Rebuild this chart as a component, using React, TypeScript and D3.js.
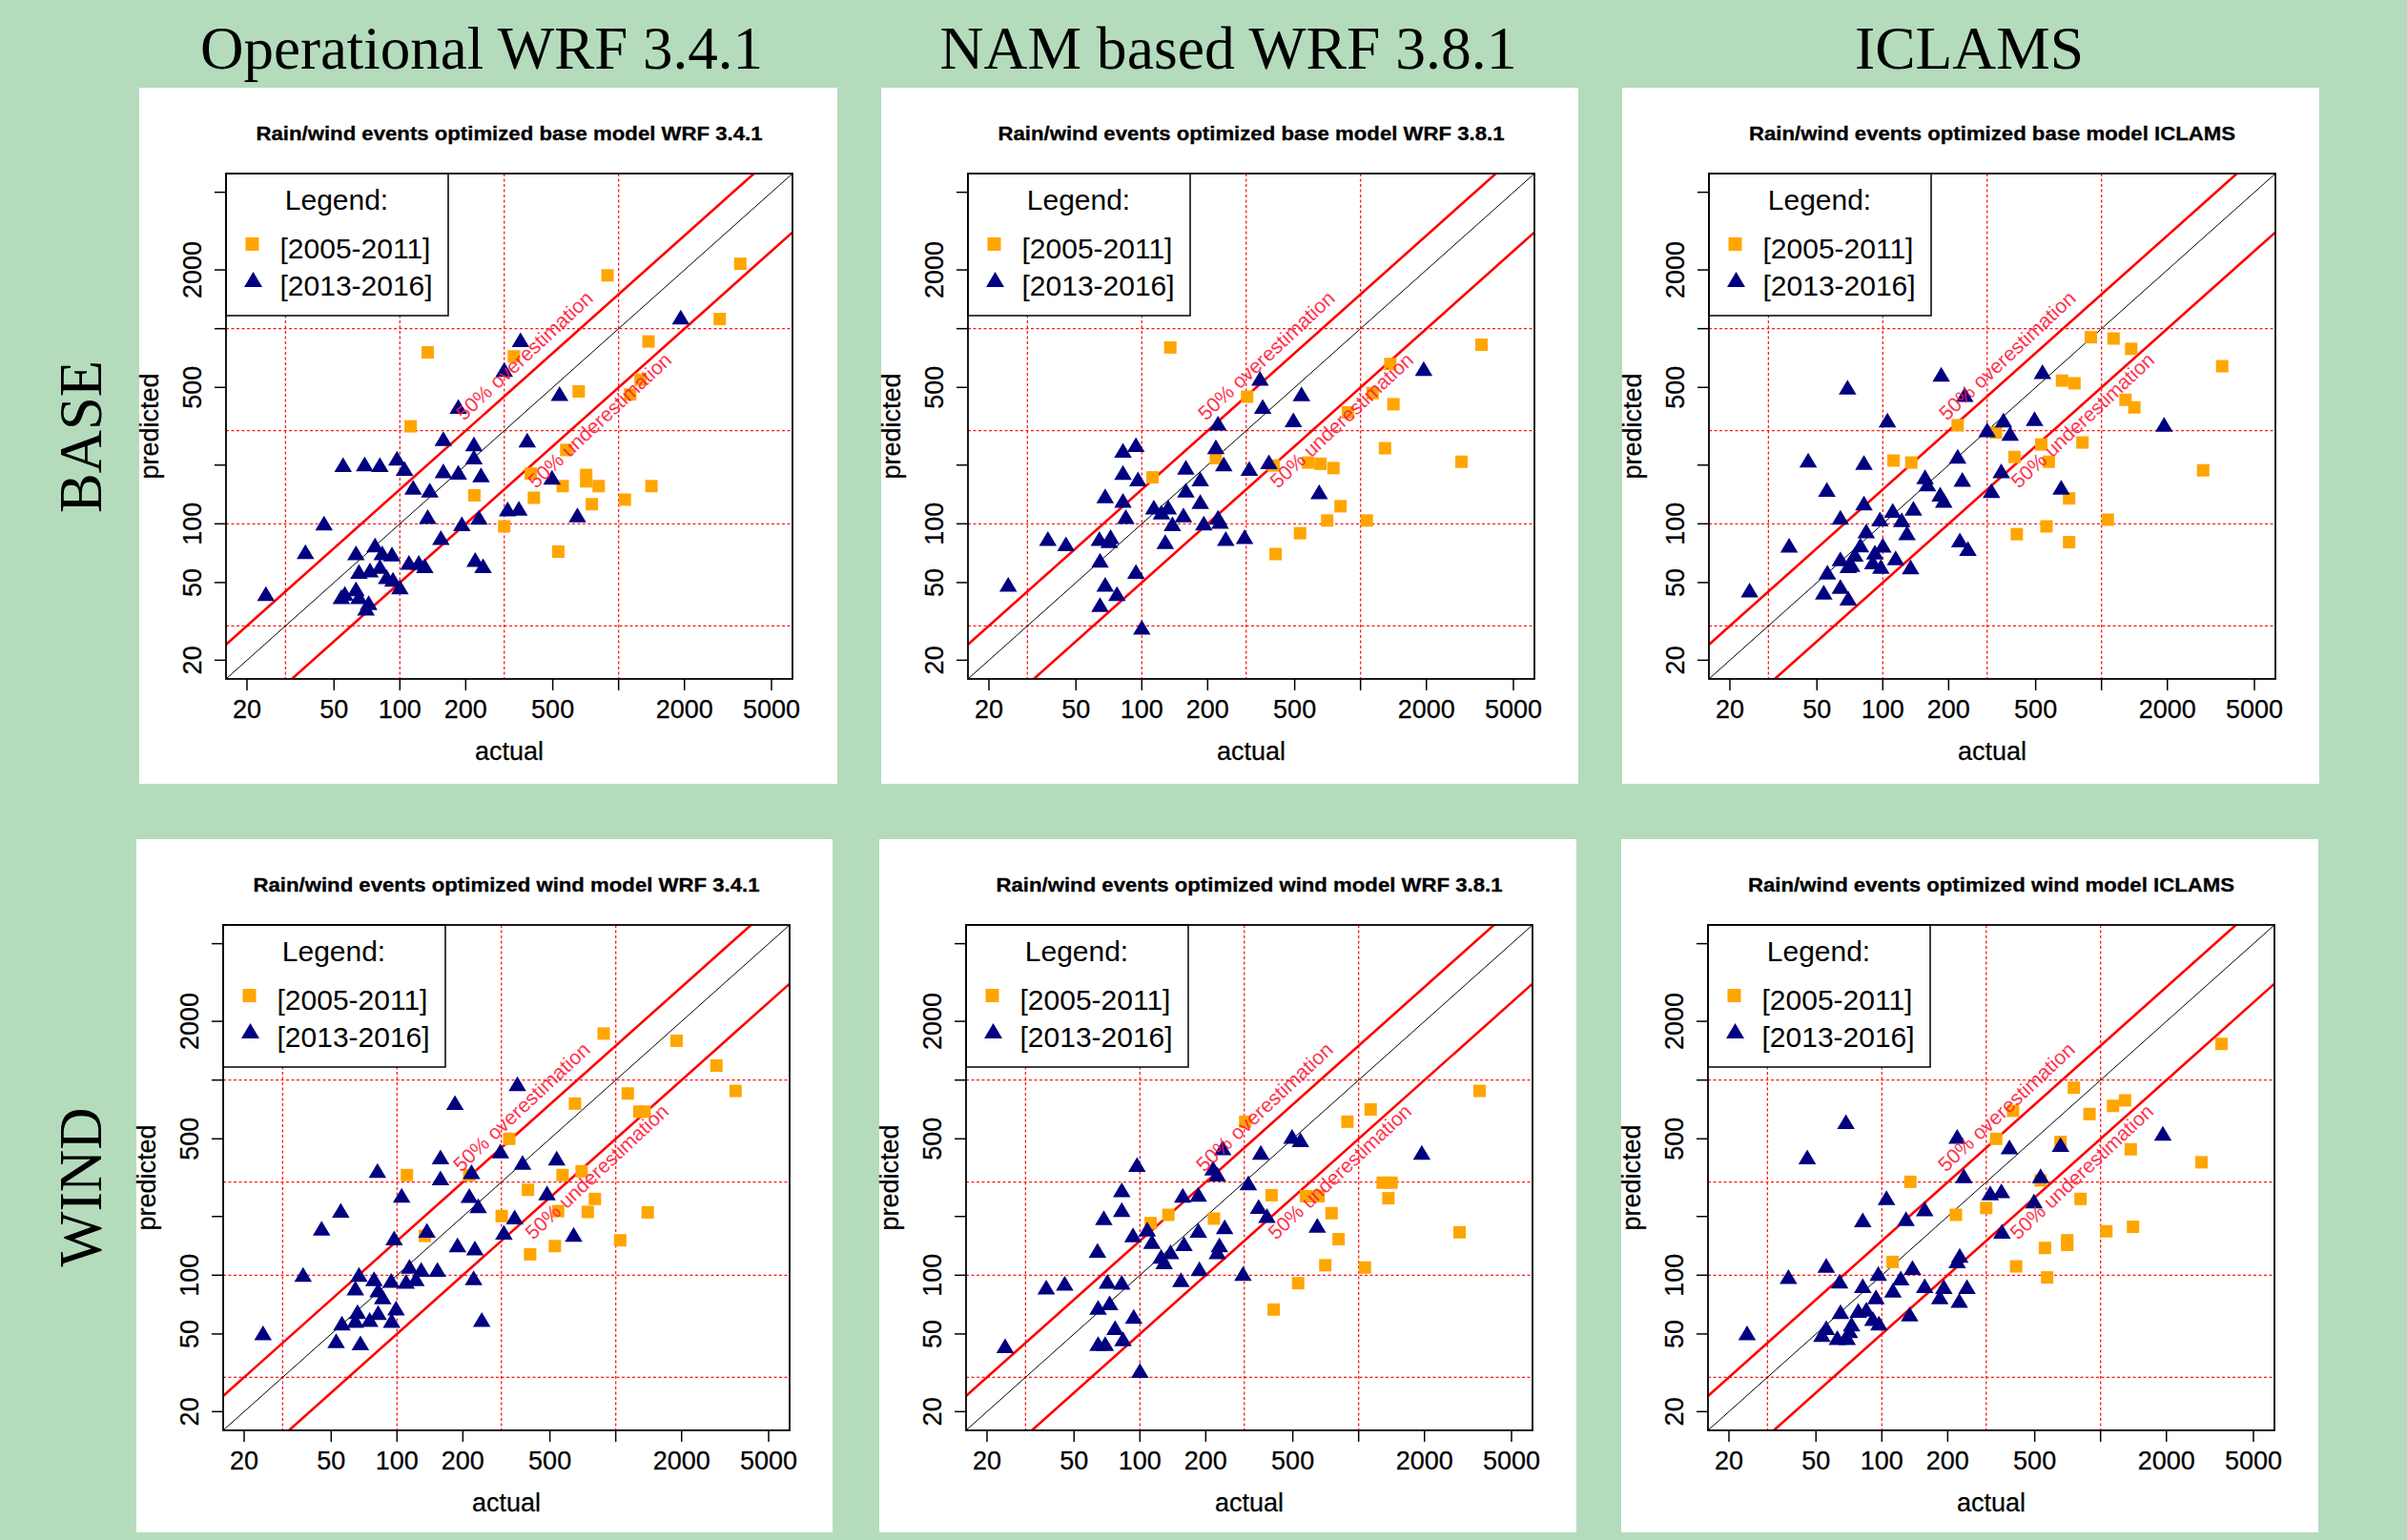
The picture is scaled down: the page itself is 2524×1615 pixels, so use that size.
import React from "react";
import * as d3 from "d3";

// page and layout
const W = 2524;
const H = 1615;
const BG = "#b4dcbc";

const columnHeaders = ["Operational WRF 3.4.1", "NAM based WRF 3.8.1", "ICLAMS"];
const columnHeaderX = [505, 1288, 2065];
const columnHeaderLen = [590, 605, 240];
const rowLabels = ["BASE", "WIND"];
const rowLabelY = [458, 1245];
const rowLabelLen = [160, 167];

const panelTitles = [
  "Rain/wind events optimized base model WRF 3.4.1",
  "Rain/wind events optimized base model WRF 3.8.1",
  "Rain/wind events optimized base model ICLAMS",
  "Rain/wind events optimized wind model WRF 3.4.1",
  "Rain/wind events optimized wind model WRF 3.8.1",
  "Rain/wind events optimized wind model ICLAMS",
];
const titleLen = [531, 531, 510, 531, 531, 510];

const legendTitle = "Legend:";
const legendLabels = ["[2005-2011]", "[2013-2016]"];

const axisTicks = [20, 50, 100, 200, 500, 1000, 2000, 5000];
const xTickLabels = [20, 50, 100, 200, 500, 2000, 5000];
const yTickLabels = [20, 50, 100, 500, 2000];
const gridValues = [30, 100, 300, 1000];
const axisLimits = [20, 5000];
const overFactor = 1.5;
const underFactor = 0.5;

// [actual, predicted]
const base341Orange = [
  [3600, 2150], [890, 1875], [2900, 1120], [1370, 860], [134, 756], [332, 721], [657, 477],
  [1130, 460], [1260, 548], [112, 316], [576, 239], [397, 181], [711, 178], [711, 165],
  [811, 156], [555, 156], [1413, 156], [219, 140], [410, 136], [1068, 133], [755, 126],
  [300, 97], [530, 72],
];
const base341Navy = [
  [1923, 1147], [356, 877], [300, 618], [537, 465], [185, 399], [158, 273], [218, 257],
  [382, 269], [218, 220], [97, 217], [55, 201], [69, 203], [81, 201], [105, 192], [158, 187],
  [185, 184], [235, 178], [496, 173], [115, 154], [137, 149], [311, 119], [350, 120],
  [134, 109], [230, 108], [648, 111], [192, 100], [45, 101], [154, 85], [77, 78], [37, 72],
  [63, 71], [83, 71], [92, 70], [110, 63.5], [122, 63.5], [130, 61], [221, 65.6], [240, 61],
  [65, 57], [73, 58], [81, 60.5], [87, 53.6], [93, 52], [100, 47.5], [24.4, 43.9], [54, 42.3],
  [56, 44], [63, 46.5], [65, 42.3], [72, 39.5], [70, 37],
];

const base381Orange = [
  [3573, 827], [135, 801], [1368, 659], [303, 448], [1135, 467], [1414, 410], [877, 372],
  [1294, 244], [2893, 208], [218, 217], [112, 173], [400, 199], [575, 206], [656, 203],
  [752, 193], [810, 123], [704, 104], [1068, 104], [529, 89.5], [409, 70],
];
const base381Navy = [
  [1944, 625], [347, 556], [537, 463], [357, 399], [493, 341], [223, 328], [94, 255],
  [82, 238], [218, 248], [237, 203], [381, 208], [310, 192], [159, 195], [82, 183], [96, 170],
  [185, 170], [159, 149], [68, 139], [82, 132], [185, 130], [647, 146], [113.5, 122],
  [132, 122], [123, 115], [84.5, 109], [155, 111], [223, 108], [228, 103], [192, 101],
  [138, 100], [295, 86], [242, 84], [128, 81], [37.2, 84], [45, 79], [64, 84], [72, 86],
  [71, 82], [64.4, 65], [94, 57], [24.5, 49], [68, 49], [77, 43.9], [64.4, 38.6], [100, 29.5],
];

const baseIclamsOrange = [
  [894, 904], [1135, 891], [1367, 788], [3563, 642], [660, 542], [752, 525], [1287, 432],
  [1413, 395], [220, 320], [329, 294], [818, 261], [530, 255], [112, 211], [135, 206],
  [400, 220], [574, 208], [2915, 188], [711, 135], [1068, 105], [560, 97], [410, 88.5],
  [711, 80.5],
];
const baseIclamsNavy = [
  [185, 584], [537, 602], [69, 501], [237, 460], [105, 340], [494, 346], [356, 340],
  [300, 303], [382, 291], [1932, 323], [45.6, 212], [82, 206], [220, 222], [348, 187],
  [156, 174], [160, 160], [231, 169], [55.5, 150], [654, 154], [314, 148], [183, 142],
  [190, 132], [82, 128], [111, 117], [138, 120], [64, 108], [97, 106], [122, 105], [129, 90],
  [84, 92], [37.3, 77.6], [79, 78], [100, 77.6], [225, 82.6], [245, 74.8], [74.5, 69.8],
  [64, 66.2], [92, 71.7], [114.5, 67], [90, 63.8], [98, 60.5], [69.5, 61], [72, 61.8],
  [134, 60.2], [55.8, 56.5], [24.6, 45.8], [53.7, 44.6], [64, 47.8], [69.5, 41.6],
];

const wind341Orange = [
  [881, 1731], [1897, 1590], [2886, 1186], [3530, 880], [1135, 853], [651, 758], [1281, 689],
  [1355, 689], [326, 500], [111, 326], [214, 326], [571, 326], [698, 341], [397, 274],
  [803, 246], [545, 213], [745, 211], [1400, 210], [301, 201], [134, 159], [1048, 151],
  [527, 141], [406, 128],
];
const wind341Navy = [
  [355, 958], [184, 766], [297, 433], [158, 404], [537, 398], [375, 379], [81.4, 344],
  [219, 339], [158, 315], [105, 257], [214, 256], [485, 264], [235, 227], [55.3, 215],
  [345, 199], [45.2, 174], [137, 170], [308, 166], [642, 162], [97, 155], [189, 143],
  [227, 138], [114, 111], [129, 107], [153, 107], [37.2, 101], [67, 101], [78.5, 96],
  [94, 94], [110, 93], [122, 96], [224, 97], [64.5, 86], [82, 84], [86, 77.4], [66, 65],
  [75, 59.3], [82, 64.3], [64.5, 58.7], [94.5, 58.7], [99, 67.8], [56, 56.9], [244, 59.3],
  [24.4, 50.6], [52.7, 46.2], [68, 45],
];

const wind381Orange = [
  [3573, 880], [1135, 707], [889, 612], [303, 612], [1288, 298], [1414, 298], [1368, 248],
  [400, 257], [575, 254], [656, 254], [752, 208], [135, 204], [218, 195], [112, 185],
  [2893, 166], [810, 153], [704, 112.5], [1068, 109.5], [529, 91], [409, 66.7],
];
const wind381Navy = [
  [496, 514], [542, 495], [1944, 426], [239, 449], [357, 426], [97, 369], [216, 354],
  [226, 330], [313, 297], [82.6, 274], [157, 257], [185, 260], [349, 225], [82.6, 217],
  [381, 202], [68.4, 197], [185, 170], [244, 177], [647, 180], [108, 172], [93, 161],
  [113.5, 149], [159, 145], [231, 143], [64, 134], [138, 132], [226, 132], [125, 125],
  [129, 117], [187, 108], [296, 102], [154, 95], [37.3, 87], [45.3, 91], [71, 93],
  [82.6, 92], [64.4, 68.5], [72.7, 72.3], [93.7, 61.6], [77, 53.9], [83.7, 47.2],
  [24.2, 43.5], [64.4, 44.7], [69.4, 44.7], [100, 32.5],
];

const windIclamsOrange = [
  [3573, 1532], [755, 914], [1294, 787], [1140, 738], [398, 696], [890, 670], [333, 500],
  [656, 482], [1374, 442], [2893, 379], [135, 301], [532, 306], [810, 246], [300, 221],
  [218, 204], [1063, 168], [1407, 177], [704, 151], [704, 143], [557, 138], [112, 117],
  [411, 111], [570, 97.4],
];
const windIclamsNavy = [
  [68.5, 612], [1926, 533], [221, 514], [656, 467], [383, 454], [45.6, 404], [532, 323],
  [237, 323], [313, 264], [352, 271], [105, 250], [496, 240], [157, 219], [129, 195],
  [81.8, 192], [354, 168], [227, 126.5], [221, 118.6], [55.7, 112.4], [138, 109.5],
  [96.3, 102], [37.4, 98.4], [64.1, 93.3], [122, 96.8], [81.8, 88.5], [157, 88.5],
  [192, 87.5], [245, 87.5], [112.4, 83.9], [94, 77.4], [184, 77.4], [226, 74.2],
  [64.7, 65], [78, 66], [84.9, 67], [134, 63.2], [91, 60], [97, 56.9], [72.7, 56.2],
  [55.7, 53.9], [53.2, 49.7], [71.1, 51.9], [62.6, 47.9], [69.4, 47.9], [24.2, 50.6],
];

const panelOrange = [base341Orange, base381Orange, baseIclamsOrange, wind341Orange, wind381Orange, windIclamsOrange];
const panelNavy = [base341Navy, base381Navy, baseIclamsNavy, wind341Navy, wind381Navy, windIclamsNavy];

const panelBoxes = [
  [146, 92, 732, 730], [924, 92, 731, 730], [1701, 92, 731, 730],
  [143, 880, 730, 727], [922, 880, 731, 727], [1700, 880, 731, 727],
];

const SANS = "'Liberation Sans', Arial, Helvetica, sans-serif";
const SERIF = "'Liberation Serif', 'Times New Roman', serif";
const ORANGE = "#ffa500";
const NAVY = "#000080";
const LABEL_RED = "#ff1a3c";

const square = (cx: number, cy: number, s: number) =>
  `M${cx - s / 2},${cy - s / 2}h${s}v${s}h${-s}Z`;
const triangle = (cx: number, cy: number, w: number, h: number) =>
  `M${cx},${cy - h / 2}L${cx + w / 2},${cy + h / 2}L${cx - w / 2},${cy + h / 2}Z`;

function Panel({ idx }: { idx: number }) {
  const [ox, oy, pw, ph] = panelBoxes[idx];
  const L = 91, R = 685, T = 90, B = 620;
  const span = Math.log10(axisLimits[1]) - Math.log10(axisLimits[0]);
  const lo = Math.pow(10, Math.log10(axisLimits[0]) - 0.04 * span);
  const hi = Math.pow(10, Math.log10(axisLimits[1]) + 0.04 * span);
  const x = d3.scaleLog().domain([lo, hi]).range([L, R]);
  const y = d3.scaleLog().domain([lo, hi]).range([B, T]);
  const clipId = `clip-${idx}`;
  const ratioPath = (k: number) =>
    d3.line<number>().x((d) => x(d)).y((d) => y(d * k))([lo, hi]) || "";

  return (
    <g transform={`translate(${ox},${oy})`}>
      <rect width={pw} height={ph} fill="white" />
      <defs>
        <clipPath id={clipId}>
          <rect x={L} y={T} width={R - L} height={B - T} />
        </clipPath>
      </defs>
      <text
        x={(L + R) / 2}
        y={55}
        textAnchor="middle"
        fontFamily={SANS}
        fontWeight="bold"
        fontSize={20}
        stroke="black"
        strokeWidth={0.3}
        textLength={titleLen[idx]}
        lengthAdjust="spacingAndGlyphs"
      >
        {panelTitles[idx]}
      </text>

      {/* grid */}
      <g stroke="#ff0000" strokeWidth={1.3} strokeDasharray="3 2.5" opacity={0.9}>
        {gridValues.map((v) => (
          <line key={`gv${v}`} x1={x(v)} x2={x(v)} y1={T} y2={B} />
        ))}
        {gridValues.map((v) => (
          <line key={`gh${v}`} x1={L} x2={R} y1={y(v)} y2={y(v)} />
        ))}
      </g>

      {/* legend */}
      <rect x={L} y={T} width={233} height={149} fill="white" stroke="black" strokeWidth={1.5} />
      <text x={L + 116} y={128} textAnchor="middle" fontFamily={SANS} fontSize={30}>
        {legendTitle}
      </text>
      <path d={square(118.5, 164, 14)} fill={ORANGE} />
      <path d={triangle(119.5, 201, 19, 16)} fill={NAVY} />
      <text x={147.5} y={179} fontFamily={SANS} fontSize={30}>
        {legendLabels[0]}
      </text>
      <text x={147.5} y={218} fontFamily={SANS} fontSize={30}>
        {legendLabels[1]}
      </text>

      {/* reference lines: y = x, y = 1.5x, y = 0.5x */}
      <g clipPath={`url(#${clipId})`}>
        <path d={ratioPath(1)} stroke="black" strokeWidth={1} fill="none" />
        <path d={ratioPath(overFactor)} stroke="#ff0000" strokeWidth={2.6} fill="none" />
        <path d={ratioPath(underFactor)} stroke="#ff0000" strokeWidth={2.6} fill="none" />
      </g>

      {/* points */}
      <g clipPath={`url(#${clipId})`}>
        {panelOrange[idx].map((d, i) => (
          <path key={`o${i}`} d={square(x(d[0]), y(d[1]), 13)} fill={ORANGE} />
        ))}
        {panelNavy[idx].map((d, i) => (
          <path key={`n${i}`} d={triangle(x(d[0]), y(d[1]), 18.5, 15.5)} fill={NAVY} />
        ))}
      </g>

      {/* line labels */}
      <text
        transform={`translate(${x(370)},${y(730)}) rotate(-43)`}
        textAnchor="middle"
        dominantBaseline="central"
        fontFamily={SANS}
        fontSize={21}
        fill={LABEL_RED}
        opacity={0.9}
        textLength={187}
        lengthAdjust="spacingAndGlyphs"
      >
        50% overestimation
      </text>
      <text
        transform={`translate(${x(818)},${y(340)}) rotate(-43)`}
        textAnchor="middle"
        dominantBaseline="central"
        fontFamily={SANS}
        fontSize={21}
        fill={LABEL_RED}
        opacity={0.9}
        textLength={196}
        lengthAdjust="spacingAndGlyphs"
      >
        50% underestimation
      </text>

      {/* box */}
      <rect x={L} y={T} width={R - L} height={B - T} fill="none" stroke="black" strokeWidth={1.8} />

      {/* axes */}
      <g stroke="black" strokeWidth={1.5}>
        {axisTicks.map((v) => (
          <line key={`xt${v}`} x1={x(v)} x2={x(v)} y1={B} y2={B + 12} />
        ))}
        {axisTicks.map((v) => (
          <line key={`yt${v}`} x1={L} x2={L - 12} y1={y(v)} y2={y(v)} />
        ))}
      </g>
      <g fontFamily={SANS} fontSize={27} stroke="black" strokeWidth={0.25}>
        {xTickLabels.map((v) => (
          <text key={`xl${v}`} x={x(v)} y={B + 40.5} textAnchor="middle">
            {v}
          </text>
        ))}
        {yTickLabels.map((v) => (
          <text
            key={`yl${v}`}
            transform={`translate(${L - 26},${y(v)}) rotate(-90)`}
            textAnchor="middle"
          >
            {v}
          </text>
        ))}
        <text x={(L + R) / 2} y={705} textAnchor="middle">
          actual
        </text>
        <text transform={`translate(20,${(T + B) / 2}) rotate(-90)`} textAnchor="middle">
          predicted
        </text>
      </g>
    </g>
  );
}

export default function App() {
  return (
    <svg
      width={W}
      height={H}
      viewBox={`0 0 ${W} ${H}`}
      style={{ position: "absolute", left: 0, top: 0, display: "block" }}
    >
      <rect width={W} height={H} fill={BG} />
      {columnHeaders.map((t, i) => (
        <text
          key={t}
          x={columnHeaderX[i]}
          y={72}
          textAnchor="middle"
          fontFamily={SERIF}
          fontSize={64}
          textLength={columnHeaderLen[i]}
          lengthAdjust="spacingAndGlyphs"
        >
          {t}
        </text>
      ))}
      {rowLabels.map((t, i) => (
        <text
          key={t}
          transform={`translate(106,${rowLabelY[i]}) rotate(-90)`}
          textAnchor="middle"
          fontFamily={SERIF}
          fontSize={64}
          textLength={rowLabelLen[i]}
          lengthAdjust="spacingAndGlyphs"
        >
          {t}
        </text>
      ))}
      {panelBoxes.map((_, i) => (
        <Panel key={i} idx={i} />
      ))}
    </svg>
  );
}
